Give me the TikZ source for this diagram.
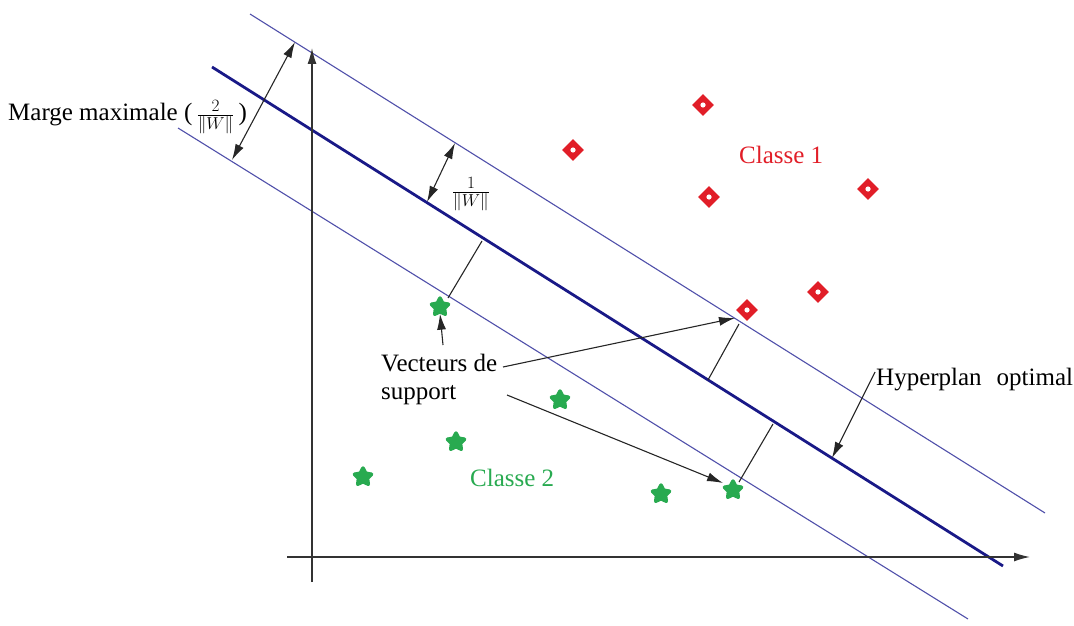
\documentclass[tikz,border=0pt]{standalone}
\usepackage{fontspec}
\setmainfont{Liberation Serif}
\usetikzlibrary{shapes.geometric,arrows.meta}
\definecolor{lignebleue}{RGB}{80,80,170}
\definecolor{hyperbleu}{RGB}{25,25,135}
\definecolor{rouge}{RGB}{225,30,40}
\definecolor{vert}{RGB}{40,170,80}
\begin{document}
\begin{tikzpicture}[x=1pt,y=-1pt,>={Latex[length=16pt,width=9pt]}]
	\tikzset{
		marge/.style={lignebleue, line width=1.1pt},
		hyper/.style={hyperbleu, line width=2.8pt},
		axe/.style={->, line width=1.4pt, black!80},
		fleche/.style={->, line width=1.1pt, black!85},
		cote/.style={<->, line width=1.1pt, black!85},
		texte/.style={font=\fontsize{25}{28}\selectfont, inner sep=0pt},
		classeun/.style={diamond, fill=rouge, inner sep=0pt, minimum size=22pt,
				path picture={\fill[white] (path picture bounding box.center) circle (2.6pt);}},
		classedeux/.style={star, star points=5, star point ratio=1.9, fill=vert, draw=vert,
				line width=3.5pt, line join=round, inner sep=0pt, minimum size=18pt},
	}
	\useasboundingbox (0,0) rectangle (1074,626);
	% les trois droites
	\coordinate (U1) at (250,14);
	\coordinate (U2) at (1045,513);
	\coordinate (H1) at (212,67);
	\coordinate (H2) at (1003,566);
	\coordinate (L1) at (178,128);
	\coordinate (L2) at (968,619);
	\draw[marge] (U1) -- (U2);
	\draw[marge] (L1) -- (L2);
	\draw[hyper] (H1) -- (H2);
	% axes
	\coordinate (O1) at (312,582);
	\coordinate (O2) at (312,48);
	\coordinate (A1) at (287,557);
	\coordinate (A2) at (1030,557);
	\draw[axe] (O1) -- (O2);
	\draw[axe] (A1) -- (A2);
	% points
	\foreach \x/\y [count=\i] in {703/105, 573/150, 709/197, 868/189, 818/292, 747/310}
		{
			\node[classeun] (r\i) at (\x,\y) {};
		}
	\foreach \x/\y [count=\i] in {440/307, 560/400, 456/442, 363/477, 661/494, 733/490}
		{
			\node[classedeux] (g\i) at (\x,\y) {};
		}
	% marges
	\coordinate (m1) at (232,160);
	\coordinate (m2) at (295,42);
	\draw[cote] (m1) -- (m2);
	\coordinate (n1) at (427,202);
	\coordinate (n2) at (455,143);
	\draw[cote] (n1) -- (n2);
	\coordinate (p1) at (448,298);
	\coordinate (p2) at (482,241);
	\draw[line width=1.1pt, black!85] (p1) -- (p2);
	\coordinate (q1) at (739,324);
	\coordinate (q2) at (708,380);
	\draw[line width=1.1pt, black!85] (q1) -- (q2);
	\coordinate (s1) at (739,482);
	\coordinate (s2) at (773,424);
	\draw[line width=1.1pt, black!85] (s1) -- (s2);
	% textes
	\node[texte, anchor=base west] (marge) at (8,121) {Marge maximale (\,$\frac{2}{\|W\|}$\,)};
	\node[texte, font=\fontsize{27}{30}\selectfont] (unw) at (471,194) {$\frac{1}{\|W\|}$};
	\node[texte, rouge, anchor=west] (c1) at (739,155) {Classe 1};
	\node[texte, vert, anchor=west] (c2) at (470,478) {Classe 2};
	\node[texte, anchor=west, align=left] (vs) at (381,379) {Vecteurs de\\support};
	\node[texte, anchor=west] (hyp) at (876,380) {Hyperplan\hspace{0.6em}optimal};
	% fleches
	\coordinate (v0) at (443,345);
	\coordinate (v1) at (503,367);
	\coordinate (v2) at (507,395);
	\coordinate (t1) at (735,318);
	\coordinate (t2) at (723,483);
	\coordinate (h0) at (875,372);
	\coordinate (h1) at (832,458);
	\draw[fleche] (v0) -- (g1.south);
	\draw[fleche] (v1) -- (t1);
	\draw[fleche] (v2) -- (t2);
	\draw[fleche] (h0) -- (h1);
\end{tikzpicture}
\end{document}
